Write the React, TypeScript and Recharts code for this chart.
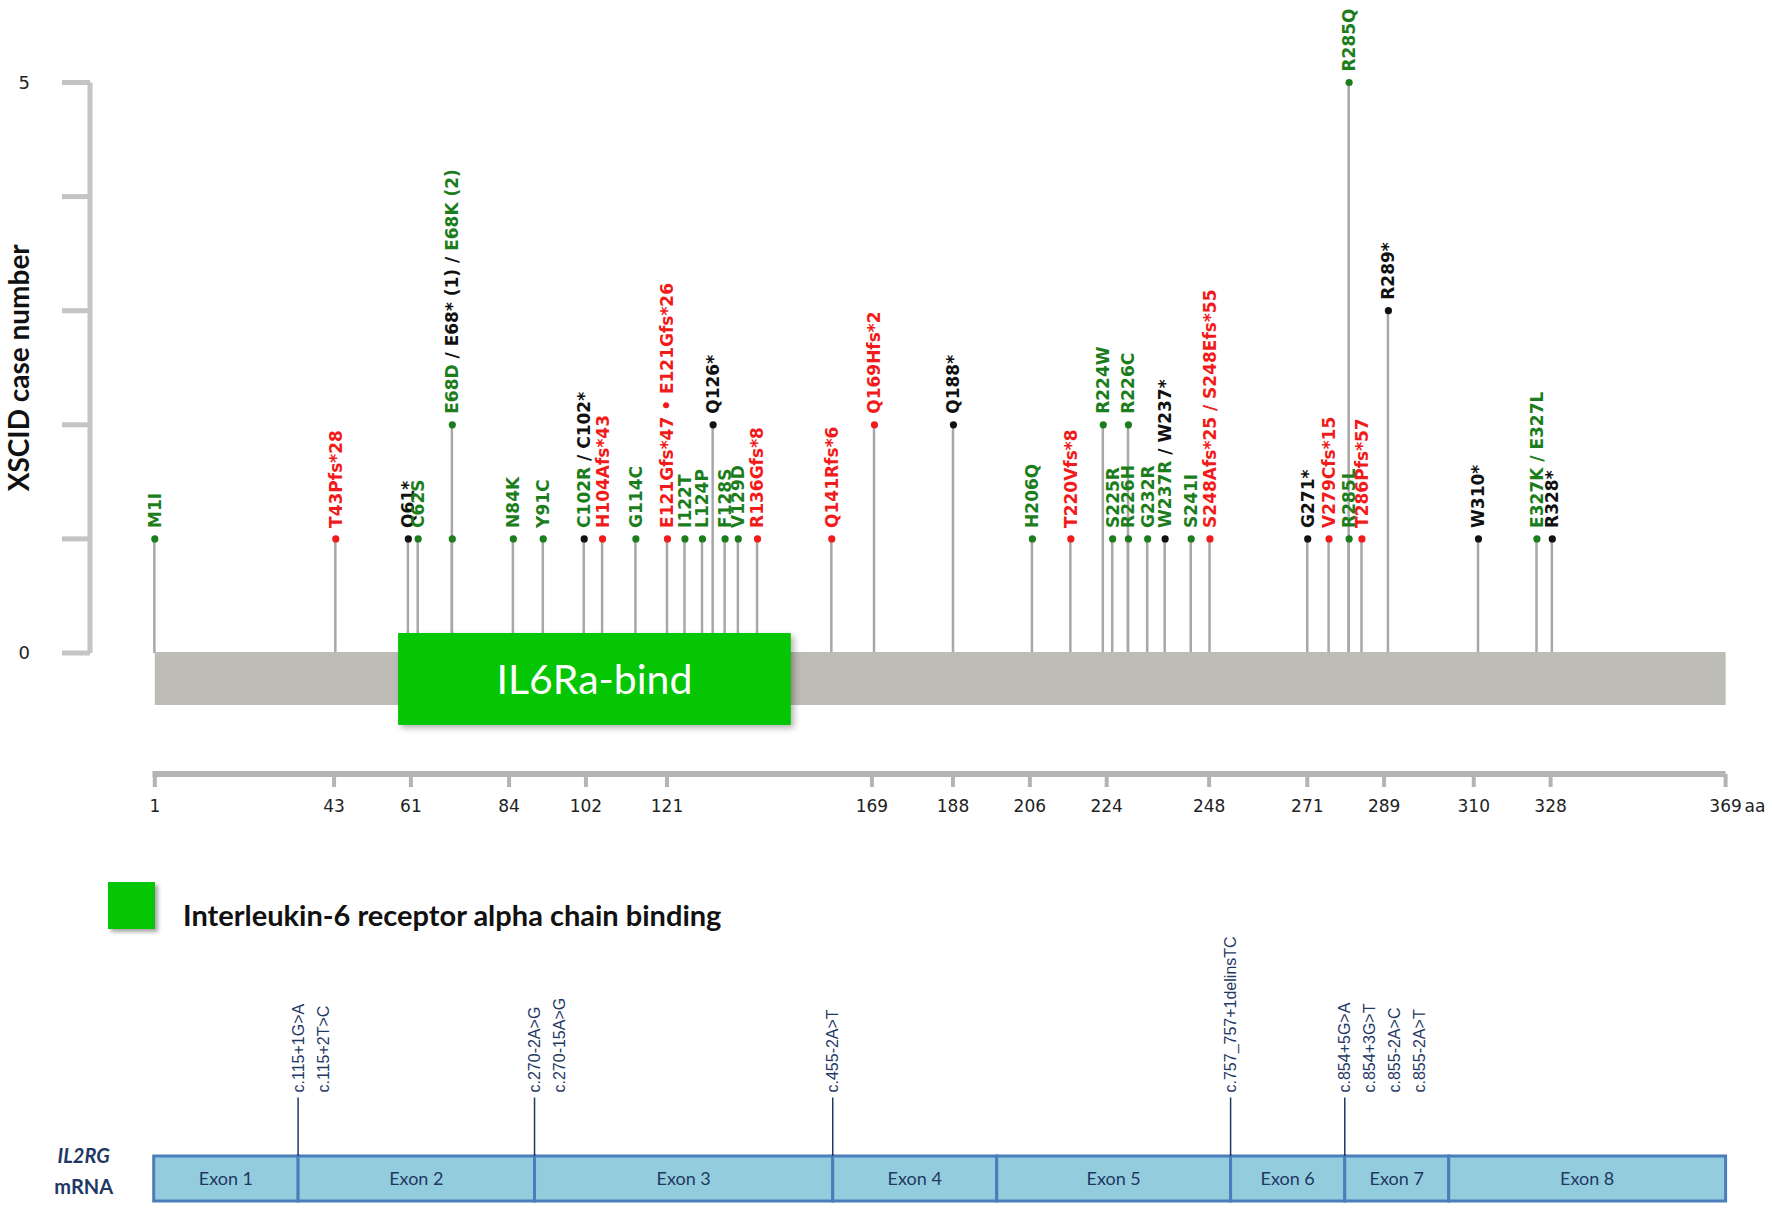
import React from 'react';
import {
  ComposedChart,
  Bar,
  Scatter,
  XAxis,
  YAxis,
  ReferenceArea,
  ReferenceLine,
  Legend,
} from 'recharts';

// ---------------- DATA ----------------
const proteinLength = 369;
const domainName = 'IL6Ra-bind';
const domainRange = [58, 150];
const legendLabel = 'Interleukin-6 receptor alpha chain binding';
const yTitle = 'XSCID case number';
const yTicks = [0, 1, 2, 3, 4, 5];
const yTickLabels = [0, 5];
const rulerTicks = [1, 43, 61, 84, 102, 121, 169, 188, 206, 224, 248, 271, 289, 310, 328, 369];

type MutType = 'missense' | 'frameshift' | 'nonsense';
type Part = [string, MutType];

// pos = position read on the aa ruler, count = XSCID case number
const mutations: { pos: number; count: number; type: MutType; label: Part[] }[] = [
  { pos: 1, count: 1, type: 'missense', label: [['M1I', 'missense']] },
  { pos: 43.4, count: 1, type: 'frameshift', label: [['T43Pfs*28', 'frameshift']] },
  { pos: 60.4, count: 1, type: 'nonsense', label: [['Q61*', 'nonsense']] },
  { pos: 62.7, count: 1, type: 'missense', label: [['C62S', 'missense']] },
  { pos: 70.7, count: 1, type: 'missense', label: [] },
  {
    pos: 70.7,
    count: 2,
    type: 'missense',
    label: [
      ['E68D ', 'missense'],
      ['/ E68* (1) / ', 'nonsense'],
      ['E68K (2)', 'missense'],
    ],
  },
  { pos: 85.0, count: 1, type: 'missense', label: [['N84K', 'missense']] },
  { pos: 92.0, count: 1, type: 'missense', label: [['Y91C', 'missense']] },
  {
    pos: 101.6,
    count: 1,
    type: 'nonsense',
    label: [
      ['C102R', 'missense'],
      [' / C102*', 'nonsense'],
    ],
  },
  { pos: 105.9, count: 1, type: 'frameshift', label: [['H104Afs*43', 'frameshift']] },
  { pos: 113.7, count: 1, type: 'missense', label: [['G114C', 'missense']] },
  { pos: 121.1, count: 1, type: 'frameshift', label: [['E121Gfs*47 \u2022 E121Gfs*26', 'frameshift']] },
  { pos: 125.2, count: 1, type: 'missense', label: [['I122T', 'missense']] },
  { pos: 129.3, count: 1, type: 'missense', label: [['L124P', 'missense']] },
  { pos: 131.8, count: 2, type: 'nonsense', label: [['Q126*', 'nonsense']] },
  { pos: 134.6, count: 1, type: 'missense', label: [['F128S', 'missense']] },
  { pos: 137.7, count: 1, type: 'missense', label: [['V129D', 'missense']] },
  { pos: 142.2, count: 1, type: 'frameshift', label: [['R136Gfs*8', 'frameshift']] },
  { pos: 159.6, count: 1, type: 'frameshift', label: [['Q141Rfs*6', 'frameshift']] },
  { pos: 169.6, count: 2, type: 'frameshift', label: [['Q169Hfs*2', 'frameshift']] },
  { pos: 188.1, count: 2, type: 'nonsense', label: [['Q188*', 'nonsense']] },
  { pos: 206.6, count: 1, type: 'missense', label: [['H206Q', 'missense']] },
  { pos: 215.6, count: 1, type: 'frameshift', label: [['T220Vfs*8', 'frameshift']] },
  { pos: 223.2, count: 2, type: 'missense', label: [['R224W', 'missense']] },
  { pos: 225.4, count: 1, type: 'missense', label: [['S225R', 'missense']] },
  { pos: 229.1, count: 1, type: 'missense', label: [['R226H', 'missense']] },
  { pos: 229.1, count: 2, type: 'missense', label: [['R226C', 'missense']] },
  { pos: 233.6, count: 1, type: 'missense', label: [['G232R', 'missense']] },
  {
    pos: 237.7,
    count: 1,
    type: 'nonsense',
    label: [
      ['W237R', 'missense'],
      [' / W237*', 'nonsense'],
    ],
  },
  { pos: 243.8, count: 1, type: 'missense', label: [['S241I', 'missense']] },
  { pos: 248.2, count: 1, type: 'frameshift', label: [['S248Afs*25 / S248Efs*55', 'frameshift']] },
  { pos: 271.1, count: 1, type: 'nonsense', label: [['G271*', 'nonsense']] },
  { pos: 276.1, count: 1, type: 'frameshift', label: [['V279Cfs*15', 'frameshift']] },
  { pos: 280.8, count: 1, type: 'missense', label: [['R285L', 'missense']] },
  { pos: 280.8, count: 5, type: 'missense', label: [['R285Q', 'missense']] },
  { pos: 283.8, count: 1, type: 'frameshift', label: [['T286Pfs*57', 'frameshift']] },
  { pos: 290.0, count: 3, type: 'nonsense', label: [['R289*', 'nonsense']] },
  { pos: 311.1, count: 1, type: 'nonsense', label: [['W310*', 'nonsense']] },
  { pos: 324.8, count: 1, type: 'missense', label: [['E327K / E327L', 'missense']] },
  { pos: 328.4, count: 1, type: 'nonsense', label: [['R328*', 'nonsense']] },
];

// mRNA schematic (positions read on the same horizontal scale)
const geneName = 'IL2RG';
const geneSub = 'mRNA';
const exonBounds = [0, 33.9, 89.4, 159.4, 197.9, 252.8, 279.6, 304.0, 369];
const exonNames = ['Exon 1', 'Exon 2', 'Exon 3', 'Exon 4', 'Exon 5', 'Exon 6', 'Exon 7', 'Exon 8'];
const spliceSites = [
  { boundary: 1, labels: ['c.115+1G>A', 'c.115+2T>C'] },
  { boundary: 2, labels: ['c.270-2A>G', 'c.270-15A>G'] },
  { boundary: 3, labels: ['c.455-2A>T'] },
  { boundary: 5, labels: ['c.757_757+1delinsTC'] },
  { boundary: 6, labels: ['c.854+5G>A', 'c.854+3G>T', 'c.855-2A>C', 'c.855-2A>T'] },
];

// ---------------- STYLE ----------------
const COLORS: Record<MutType, string> = {
  missense: '#1b7d1b',
  frameshift: '#f21b1b',
  nonsense: '#111111',
};
const W = 1772;
const H = 1220;
const RIGHT = 46.4;
const NAVY = '#1f3864';
const DOMAIN_GREEN = '#05c605';
const SPLICE_TOP = 2.3;

const MutShape = (props: any) => {
  const { cx, cy, payload } = props;
  if (cx == null || cy == null || !payload) return null;
  const color = COLORS[payload.type as MutType];
  const tx = cx + 6;
  const ty = cy - 11;
  return (
    <g>
      <circle cx={cx} cy={cy} r={3.6} fill={color} />
      {payload.label.length > 0 && (
        <text
          x={tx}
          y={ty}
          transform={`rotate(-90 ${tx} ${ty})`}
          fontFamily="DejaVu Sans"
          fontWeight="bold"
          fontSize={17}
          style={{ whiteSpace: 'pre' }}
        >
          {payload.label.map((p: Part, i: number) => (
            <tspan key={i} fill={COLORS[p[1]]}>
              {p[0]}
            </tspan>
          ))}
        </text>
      )}
    </g>
  );
};

const YTitle = (props: any) => {
  const vb = props.viewBox || {};
  const x = (vb.x ?? 0) + 18;
  const y = (vb.y ?? 0) + (vb.height ?? 0) / 2;
  return (
    <text
      x={x}
      y={y}
      transform={`rotate(-90 ${x} ${y})`}
      textAnchor="middle"
      dominantBaseline="central"
      fontFamily="Lato"
      fontWeight={700}
      fontSize={28}
      fill="#111"
    >
      {yTitle}
    </text>
  );
};

const RulerTick = (props: any) => {
  const { x, y, payload } = props;
  return (
    <g>
      <text x={x} y={y} dy="0.71em" textAnchor="middle" fontFamily="DejaVu Sans" fontSize={17} fill="#222">
        {payload.value}
      </text>
      {payload.value === proteinLength && (
        <text x={x + 19} y={y} dy="0.71em" textAnchor="start" fontFamily="DejaVu Sans" fontSize={17} fill="#222">
          aa
        </text>
      )}
    </g>
  );
};

const GeneTick = (props: any) => {
  const { x, y } = props;
  return (
    <g>
      <text
        x={x - 30}
        y={y - 16}
        textAnchor="middle"
        fontFamily="Lato"
        fontStyle="italic"
        fontWeight={700}
        fontSize={20}
        fill={NAVY}
      >
        {geneName}
      </text>
      <text x={x - 30} y={y + 15} textAnchor="middle" fontFamily="Lato" fontWeight={700} fontSize={20} fill={NAVY}>
        {geneSub}
      </text>
    </g>
  );
};

const SpliceShape = (props: any) => {
  const { cx, cy, payload } = props;
  if (cx == null || cy == null || !payload) return null;
  return (
    <g>
      {payload.labels.map((t: string, i: number) => {
        const tx = cx + 5.5 + i * 25;
        const ty = cy - 5;
        return (
          <text
            key={i}
            x={tx}
            y={ty}
            transform={`rotate(-90 ${tx} ${ty})`}
            fontFamily="Liberation Sans, Arial"
            fontSize={16}
            fill={NAVY}
          >
            {t}
          </text>
        );
      })}
    </g>
  );
};

const LegendContent = () => (
  <div style={{ display: 'flex', alignItems: 'center' }}>
    <div
      style={{
        width: 47,
        height: 47,
        background: DOMAIN_GREEN,
        boxShadow: '3px 3px 4px rgba(0,0,0,0.35)',
      }}
    />
    <span
      style={{
        marginLeft: 28,
        fontFamily: 'Lato',
        fontWeight: 700,
        fontSize: 29,
        color: '#111',
        position: 'relative',
        top: 9,
        whiteSpace: 'nowrap',
      }}
    >
      {legendLabel}
    </span>
  </div>
);

const DomainShape = (p: any) => (
  <rect
    x={p.x}
    y={p.y}
    width={p.width}
    height={p.height}
    fill={DOMAIN_GREEN}
    style={{ filter: 'drop-shadow(3px 3px 3px rgba(0,0,0,0.3))' }}
  />
);

export default function App() {
  const rulerData = rulerTicks.map((v) => ({ pos: v }));
  const spliceData = spliceSites.map((s) => ({
    pos: exonBounds[s.boundary],
    top: SPLICE_TOP,
    labels: s.labels,
  }));

  return (
    <div style={{ position: 'absolute', left: 0, top: 0, width: W, height: H, background: '#fff' }}>
      {/* Lollipop panel */}
      <div style={{ position: 'absolute', left: 0, top: 0 }}>
        <ComposedChart width={W} height={700} data={mutations} margin={{ top: 82.5, right: RIGHT, bottom: 47, left: 0 }}>
          <XAxis
            dataKey="pos"
            type="number"
            domain={[1, proteinLength]}
            padding={{ left: 64.8, right: 0 }}
            hide
          />
          <YAxis
            type="number"
            domain={[0, 5]}
            ticks={yTicks}
            width={90}
            tickSize={28}
            tickMargin={32}
            tickFormatter={(v: number) => (yTickLabels.includes(v) ? String(v) : '')}
            tick={{ fontSize: 18, fill: '#222', fontFamily: 'DejaVu Sans' }}
            axisLine={{ stroke: '#c4c4c4', strokeWidth: 5 }}
            tickLine={{ stroke: '#c4c4c4', strokeWidth: 5 }}
            label={<YTitle />}
          />
          <Bar dataKey="count" barSize={2.5} fill="#a8a8a8" isAnimationActive={false} />
          <Scatter dataKey="count" shape={MutShape} isAnimationActive={false} />
        </ComposedChart>
      </div>

      {/* Protein track + ruler */}
      <div style={{ position: 'absolute', left: 0, top: 0 }}>
        <ComposedChart width={W} height={H} data={rulerData} margin={{ top: 633, right: RIGHT, bottom: 396, left: 152.5 }}>
          <XAxis
            dataKey="pos"
            type="number"
            domain={[1, proteinLength]}
            ticks={rulerTicks}
            interval={0}
            padding={{ left: 2.3, right: 0 }}
            height={50}
            tickSize={13}
            tickMargin={13}
            axisLine={{ stroke: '#b4b4b4', strokeWidth: 6 }}
            tickLine={{ stroke: '#b4b4b4', strokeWidth: 4 }}
            tick={<RulerTick />}
          />
          <YAxis type="number" domain={[0, 10]} allowDataOverflow hide />
          <ReferenceArea
            x1={1}
            x2={proteinLength}
            y1={4.89}
            y2={8.65}
            fill="#bdbdb5"
            fillOpacity={1}
            stroke="none"
            ifOverflow="visible"
          />
          <ReferenceArea
            x1={domainRange[0]}
            x2={domainRange[1]}
            y1={3.48}
            y2={10}
            shape={DomainShape}
            ifOverflow="visible"
            label={{ value: domainName, position: 'center', fill: '#fff', fontSize: 41, fontFamily: 'Lato' }}
          />
        </ComposedChart>
      </div>

      {/* Legend + mRNA exon map */}
      <div style={{ position: 'absolute', left: 0, top: 0 }}>
        <ComposedChart width={W} height={H} data={spliceData} margin={{ top: 931, right: RIGHT, bottom: 19, left: 0 }}>
          <XAxis dataKey="pos" type="number" domain={[0, proteinLength]} hide />
          <YAxis
            type="number"
            domain={[0, 6]}
            ticks={[0.5]}
            width={153.7}
            tickSize={0}
            tickMargin={40}
            axisLine={false}
            tickLine={false}
            tick={<GeneTick />}
          />
          <Legend
            layout="horizontal"
            verticalAlign="middle"
            align="center"
            content={<LegendContent />}
            wrapperStyle={{ top: 882, left: 108, width: 900, height: 50 }}
          />
          {exonNames.map((name, i) => (
            <ReferenceArea
              key={name}
              x1={exonBounds[i]}
              x2={exonBounds[i + 1]}
              y1={0}
              y2={1}
              fill="#93cddd"
              fillOpacity={1}
              stroke="#4a7ebb"
              strokeWidth={3}
              ifOverflow="visible"
              label={{ value: name, position: 'center', fill: NAVY, fontSize: 18, fontFamily: 'Lato' }}
            />
          ))}
          {spliceSites.map((s) => (
            <ReferenceLine
              key={s.boundary}
              segment={[
                { x: exonBounds[s.boundary], y: 1 },
                { x: exonBounds[s.boundary], y: SPLICE_TOP },
              ]}
              stroke={NAVY}
              strokeWidth={1.5}
            />
          ))}
          <Scatter dataKey="top" shape={SpliceShape} isAnimationActive={false} />
        </ComposedChart>
      </div>
    </div>
  );
}
